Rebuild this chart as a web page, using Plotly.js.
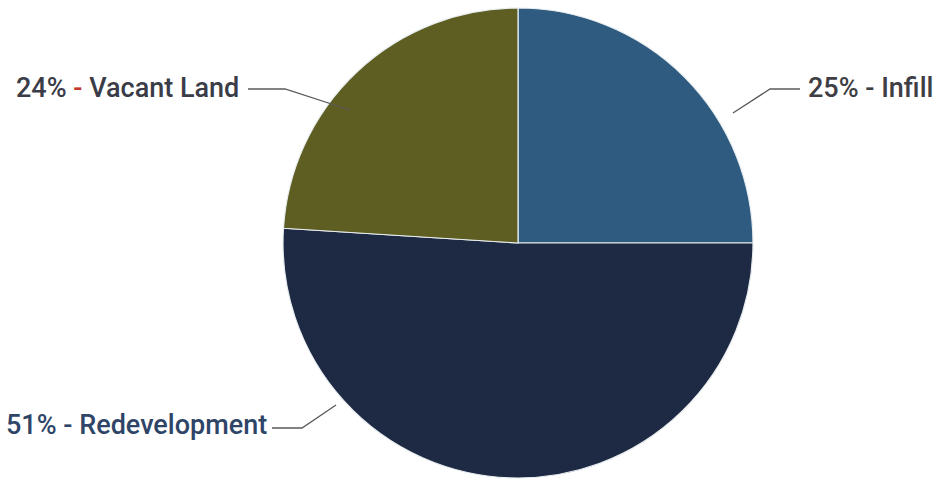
<!DOCTYPE html>
<html>
<head>
<meta charset="utf-8">
<script src="https://cdn.plot.ly/plotly-3.0.1.min.js"></script>
<style>html,body{margin:0;padding:0;background:#fff;}#chart{width:947px;height:480px;}</style>
</head>
<body>
<div id="chart"></div>
<script>
const categories = ["Infill", "Redevelopment", "Vacant Land"];
const shares = [25, 51, 24];
const sliceColors = ["#2f5b80", "#1e2943", "#5e5d22"];

const fontFam = "Roboto, 'Open Sans', sans-serif";
const label = (i) => shares[i] + "% - " + categories[i];

const trace = {
  type: "pie",
  labels: categories,
  values: shares,
  sort: false,
  direction: "clockwise",
  rotation: 0,
  marker: {colors: sliceColors, line: {color: "#e8eef0", width: 1.2}},
  textinfo: "none",
  hoverinfo: "label+percent",
  showlegend: false,
  domain: {x: [283/947, 753/947], y: [2/480, 472/480]}
};

const px = (x) => x / 947, py = (y) => 1 - y / 480;
const lineStyle = {color: "#5a5a5a", width: 1.3};
const layout = {
  width: 947, height: 480,
  margin: {l: 0, r: 0, t: 0, b: 0},
  paper_bgcolor: "#ffffff",
  showlegend: false,
  annotations: [
    {text: label(2).replace(" - ", " <span style='color:#c0392b'>-</span> "), x: px(241), y: py(88), xref: "paper", yref: "paper", xanchor: "right", yanchor: "middle", showarrow: false, font: {family: fontFam, size: 27, weight: 500, color: "#3a3c48"}},
    {text: label(0), x: px(806), y: py(88), xref: "paper", yref: "paper", xanchor: "left", yanchor: "middle", showarrow: false, font: {family: fontFam, size: 27, weight: 500, color: "#3e3e44"}},
    {text: label(1), x: px(269), y: py(425), xref: "paper", yref: "paper", xanchor: "right", yanchor: "middle", showarrow: false, font: {family: fontFam, size: 27, weight: 500, color: "#2f4567"}}
  ]
};
function pathFrom(pts){
  return pts.map((p,i)=> (i? "L":"M") + px(p[0]) + "," + py(p[1])).join(" ");
}
layout.shapes = [
  {type: "path", xref: "paper", yref: "paper", path: pathFrom([[248,89],[285,89],[350,110]]), line: lineStyle},
  {type: "path", xref: "paper", yref: "paper", path: pathFrom([[733,113],[770,89],[800,89]]), line: lineStyle},
  {type: "path", xref: "paper", yref: "paper", path: pathFrom([[272,428],[302,428],[336,405]]), line: lineStyle}
];

Plotly.newPlot("chart", [trace], layout, {displayModeBar: false, staticPlot: true});
</script>
</body>
</html>
